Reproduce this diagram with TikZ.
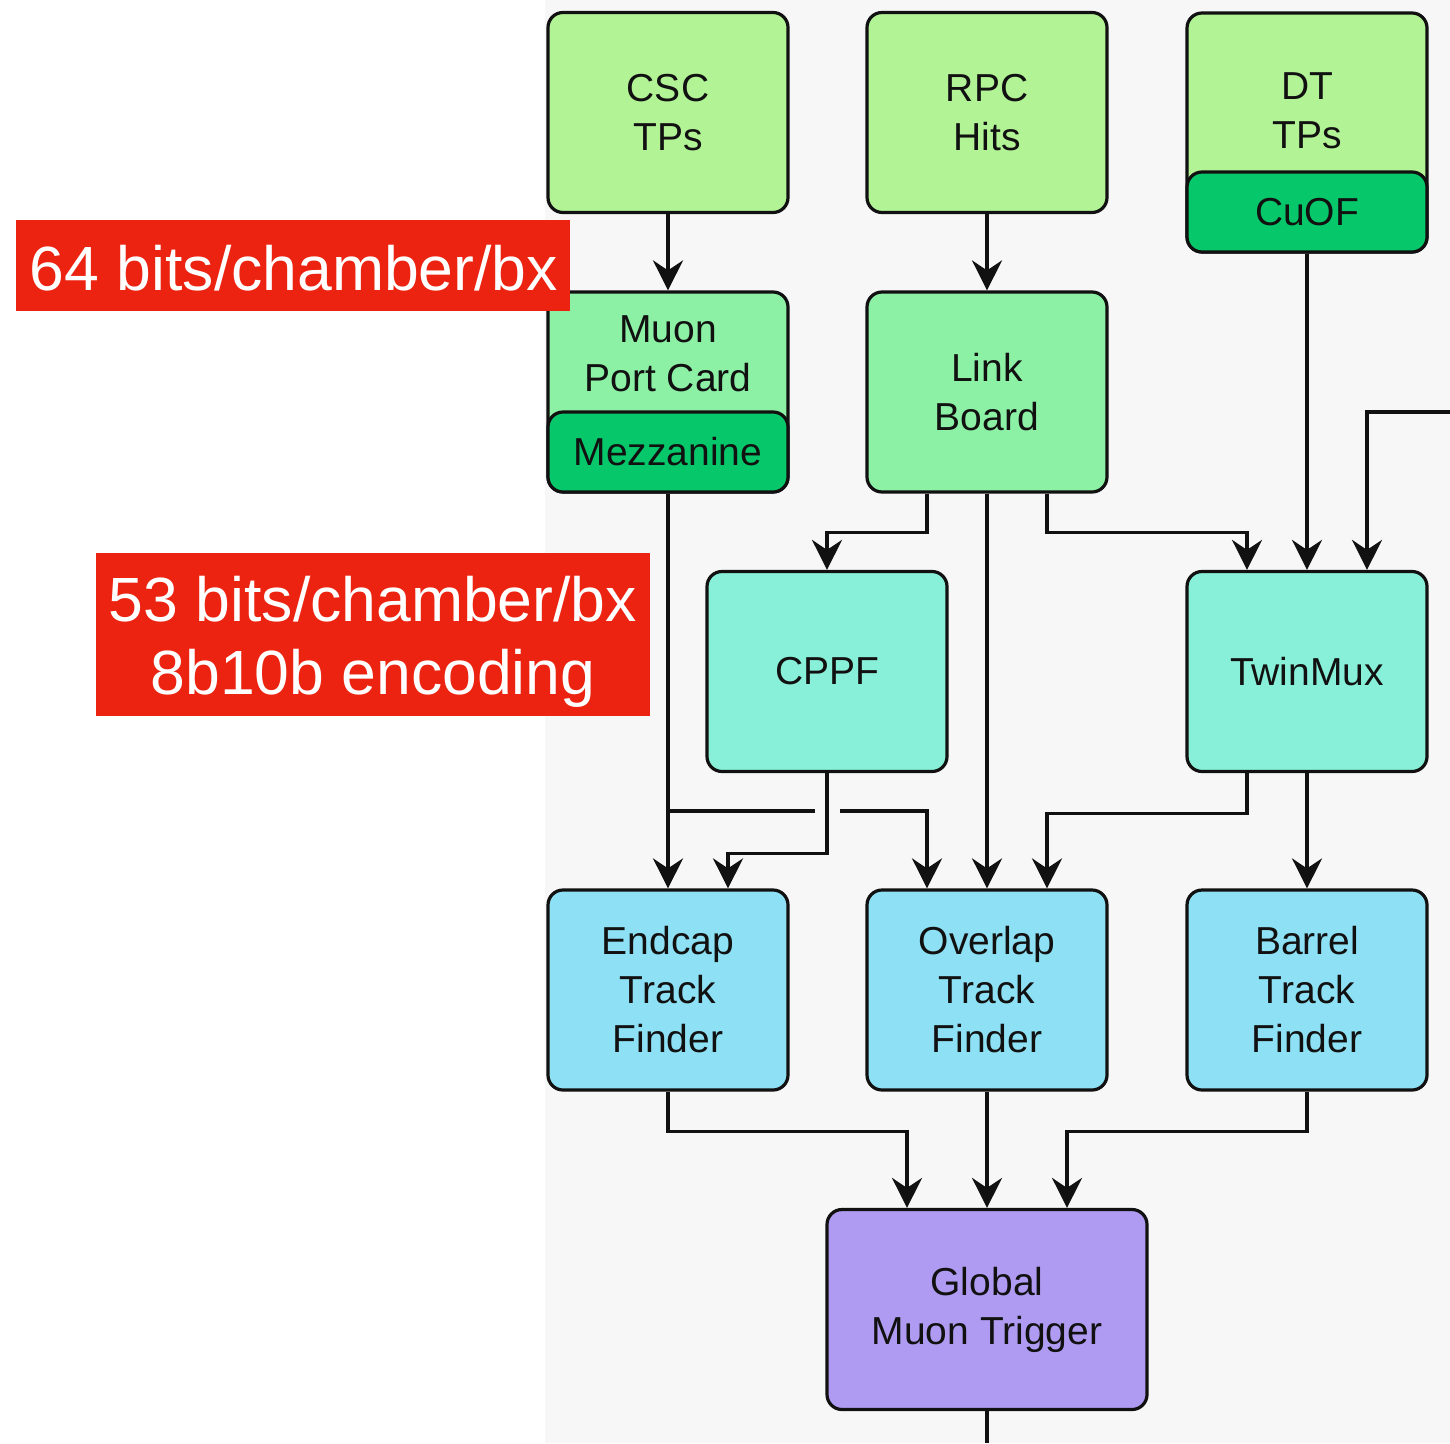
\documentclass[tikz,border=0pt]{standalone}
\usepackage{fontspec}
\setmainfont{Liberation Sans}
\usetikzlibrary{arrows.meta,calc}

\definecolor{srcgreen}{HTML}{B2F396}
\definecolor{subgreen}{HTML}{06C86A}
\definecolor{midgreen}{HTML}{8CF0A5}
\definecolor{aqua}{HTML}{88F0D8}
\definecolor{skyblue}{HTML}{8EE0F4}
\definecolor{lilac}{HTML}{B09BF2}
\definecolor{tagred}{HTML}{EC2310}
\definecolor{panel}{HTML}{F7F7F7}
\definecolor{ink}{HTML}{111111}

\tikzset{
  block/.style={draw=ink, line width=3.2pt, rounded corners=15pt, align=center,
    minimum width=240pt, minimum height=200pt, inner sep=0pt, text=ink,
    font=\fontsize{39}{49}\selectfont},
  subblock/.style={block, minimum height=80pt},
  plain/.style={inner sep=0pt, align=center, text=ink, font=\fontsize{39}{49}\selectfont},
  tag/.style={fill=tagred, text=white, align=center, inner sep=0pt,
    font=\fontsize{62.5}{73}\selectfont},
  wire/.style={draw=ink, line width=3.2pt},
  flow/.style={wire, -{Stealth[length=30pt, width=30pt, inset=10pt]}}
}

\begin{document}
\begin{tikzpicture}[x=1pt, y=-1pt]
\useasboundingbox (0,0) rectangle (1450,1443);
\fill[panel] (545,0) rectangle (1450,1443);

% sources
\node[block, fill=srcgreen] (csc) at (668,112.5) {CSC\\TPs};
\node[block, fill=srcgreen] (rpc) at (987,112.5) {RPC\\Hits};
\node[block, fill=srcgreen, minimum height=239pt] (dt) at (1307,132.5) {};
\node[plain] (dtt) at (1307,111) {DT\\TPs};
\node[subblock, fill=subgreen] (cuof) at (1307,212) {CuOF};

% front-end boards
\node[block, fill=midgreen] (mpc) at (668,392) {};
\node[plain] (mpct) at (668,354) {Muon\\Port Card};
\node[subblock, fill=subgreen] (mezz) at (668,452) {Mezzanine};
\node[block, fill=midgreen] (lb) at (987,392) {Link\\Board};

% concentrators
\node[block, fill=aqua] (cppf) at (827,671.5) {CPPF};
\node[block, fill=aqua] (tmx) at (1307,671.5) {TwinMux};

% track finders
\node[block, fill=skyblue] (emtf) at (668,990) {Endcap\\Track\\Finder};
\node[block, fill=skyblue] (omtf) at (987,990) {Overlap\\Track\\Finder};
\node[block, fill=skyblue] (bmtf) at (1307,990) {Barrel\\Track\\Finder};

% global trigger
\node[block, fill=lilac, minimum width=320pt] (gmt) at (987,1309.5) {Global\\Muon Trigger};

% bandwidth tags
\node[tag, minimum width=554pt, minimum height=91pt] (tag1) at (293,265.5) {};
\node[inner sep=0pt, text=white, font=\fontsize{62.5}{73}\selectfont]
  (tag1t) at (294,268) {64 bits/chamber/bx};
\node[tag, minimum width=554pt, minimum height=163pt] (tag2) at (373,634.5) {};
\node[inner sep=0pt, align=center, text=white, font=\fontsize{62.5}{73}\selectfont]
  (tag2t) at (373,642) {53 bits/chamber/bx\\8b10b encoding};

% free ends
\coordinate (ext) at (1450,412);
\coordinate (hopL) at (815,811);
\coordinate (hopR) at (840,811);
\coordinate (out) at (987,1443);

% sources to boards
\draw[flow] (csc.south) -- (mpc.north);
\draw[flow] (rpc.south) -- (lb.north);
\draw[flow] (cuof.south) -- (tmx.north);
\draw[flow] (ext) -- (1367,412) -- ([xshift=60pt]tmx.north);

% link board fan-out
\draw[flow] ([xshift=-60pt]lb.south) -- ++(0,39) -| (cppf.north);
\draw[flow] (lb.south) -- (omtf.north);
\draw[flow] ([xshift=60pt]lb.south) -- ++(0,39) -| ([xshift=-60pt]tmx.north);

% into the track finders
\draw[flow] (mezz.south) -- (emtf.north);
\draw[wire] (668,811) -- (hopL);
\draw[flow] (hopR) -| ([xshift=-60pt]omtf.north);
\draw[flow] (cppf.south) -- ++(0,80) -| ([xshift=60pt]emtf.north);
\draw[flow] ([xshift=-60pt]tmx.south) -- ++(0,40) -| ([xshift=60pt]omtf.north);
\draw[flow] (tmx.south) -- (bmtf.north);

% into the global trigger
\draw[flow] (emtf.south) -- ++(0,40) -| ([xshift=-80pt]gmt.north);
\draw[flow] (omtf.south) -- (gmt.north);
\draw[flow] (bmtf.south) -- ++(0,40) -| ([xshift=80pt]gmt.north);
\draw[wire] (gmt.south) -- (out);
\end{tikzpicture}
\end{document}
